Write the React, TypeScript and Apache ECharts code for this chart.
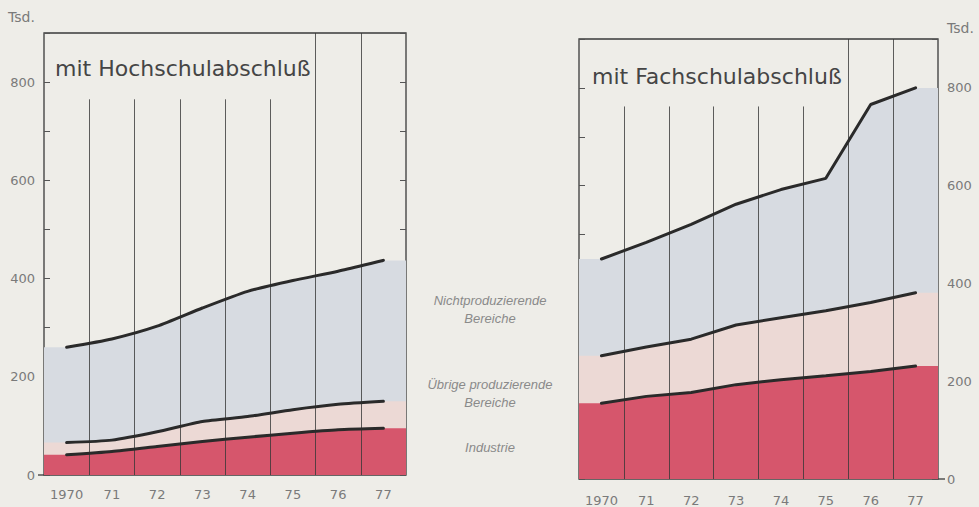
import React, { useEffect, useRef } from "react";
import * as echarts from "echarts";

// ---- data (Tsd.) ----
const years = ["1970", "71", "72", "73", "74", "75", "76", "77"];
// mit Hochschulabschluß
const hochIndustrie = [41, 48, 58, 68, 77, 85, 92, 95];
const hochUebrige = [25, 23, 30, 41, 42, 48, 52, 55];
const hochNicht = [194, 206, 215, 231, 255, 263, 271, 287];
// mit Fachschulabschluß
const fachIndustrie = [155, 169, 177, 193, 203, 211, 220, 231];
const fachUebrige = [97, 101, 109, 122, 127, 133, 141, 150];
const fachNicht = [198, 214, 235, 247, 262, 271, 405, 419];

const yMax = 900;
const yInterval = 100;
const yLabelStep = 200;

const legendNicht = ["Nichtproduzierende", "Bereiche"];
const legendUebrige = ["Übrige produzierende", "Bereiche"];
const legendIndustrie = ["Industrie"];

// ---- style ----
const BG = "#eeede8";
const RED = "#d6566c";
const PINK = "#ecd9d5";
const GREY = "#d7dbe1";
const LINE = "#2a2a2a";
const VLINE = "rgba(55,55,55,0.8)";
const TXT = "#7a7a7a";
const FONT = "'DejaVu Sans', 'Liberation Sans', sans-serif";

function cumulate(...arrs: number[][]): number[][] {
  const out: number[][] = [];
  let acc = arrs[0].map(() => 0);
  for (const a of arrs) {
    acc = acc.map((v, i) => v + a[i]);
    out.push(acc.slice());
  }
  return out;
}
const pts = (vals: number[]) => vals.map((v, i) => [i + 0.5, v]);
const areaPts = (vals: number[]) => [[0, vals[0]], ...pts(vals), [vals.length, vals[vals.length - 1]]];

function panelSeries(
  ind: number[],
  ueb: number[],
  nicht: number[],
  xIdx: number,
  yIdx: number,
  smooth: number,
  boxBottom: number
) {
  const [c1, c2, c3] = cumulate(ind, ueb, nicht);
  const area = (vals: number[], color: string, z: number) => ({
    type: "line",
    xAxisIndex: xIdx,
    yAxisIndex: yIdx,
    data: areaPts(vals),
    smooth,
    showSymbol: false,
    symbol: "none",
    lineStyle: { width: 0 },
    areaStyle: { color, opacity: 1 },
    z,
    silent: true,
  });
  const line = (vals: number[]) => ({
    type: "line",
    xAxisIndex: xIdx,
    yAxisIndex: yIdx,
    data: pts(vals),
    smooth,
    showSymbol: false,
    symbol: "none",
    lineStyle: { width: 3, color: LINE, cap: "round" },
    z: 10,
    silent: true,
  });
  const boundaries = years.slice(1).map((_, i) => {
    const x = i + 1;
    const top = x <= 5 ? boxBottom : yMax;
    return [{ coord: [x, 0] }, { coord: [x, top] }];
  });
  return [
    area(c3, GREY, 1),
    area(c2, PINK, 2),
    area(c1, RED, 3),
    {
      type: "line",
      xAxisIndex: xIdx,
      yAxisIndex: yIdx,
      data: [],
      z: 6,
      silent: true,
      markLine: {
        silent: true,
        symbol: "none",
        label: { show: false },
        lineStyle: { color: VLINE, width: 1, type: "solid" },
        data: boundaries,
        animation: false,
      },
    },
    line(c1),
    line(c2),
    line(c3),
  ];
}

export default function App() {
  const ref = useRef<HTMLDivElement>(null);
  useEffect(() => {
    document.body.style.margin = "0";
    document.body.style.background = BG;
    const chart = echarts.init(ref.current!, undefined, { renderer: "svg" });

    const valueX = (grid: number) => ({
      type: "value",
      gridIndex: grid,
      position: "top",
      min: 0,
      max: years.length,
      show: false,
    });
    const catX = (grid: number, margin: number) => ({
      type: "category",
      gridIndex: grid,
      position: "bottom",
      data: years,
      boundaryGap: true,
      axisLine: { show: false },
      axisTick: { show: false },
      splitLine: { show: false },
      axisLabel: { color: TXT, fontSize: 13, fontFamily: FONT, margin },
    });
    const yAx = (grid: number, position: string, labels: boolean, margin: number) => ({
      type: "value",
      gridIndex: grid,
      position,
      min: 0,
      max: yMax,
      interval: yInterval,
      axisLine: { show: false },
      splitLine: { show: false },
      axisTick: { show: true, inside: true, length: 6, lineStyle: { color: "#555", width: 1 } },
      axisLabel: {
        show: labels,
        color: TXT,
        fontSize: 13,
        fontFamily: FONT,
        margin,
        formatter: (v: number) => (v % yLabelStep === 0 ? String(v) : ""),
      },
    });

    const legendText = (lines: string[], y: number) =>
      lines.map((t, i) => ({
        type: "text",
        x: 490,
        y: y + i * 18,
        style: {
          text: t,
          fill: "#8a8a8a",
          font: `italic 13px 'Liberation Sans', Arial, sans-serif`,
          textAlign: "center",
          textVerticalAlign: "middle",
        },
      }));

    chart.setOption({
      animation: false,
      backgroundColor: BG,
      grid: [
        { left: 44, top: 33, width: 362, height: 442, show: true, borderColor: "#3a3a3a", borderWidth: 1.3, backgroundColor: "transparent" },
        { left: 579, top: 39, width: 359, height: 440, show: true, borderColor: "#3a3a3a", borderWidth: 1.3, backgroundColor: "transparent" },
      ],
      xAxis: [valueX(0), catX(0, 13), valueX(1), catX(1, 15)],
      yAxis: [
        yAx(0, "left", true, 9),
        yAx(0, "right", false, 8),
        yAx(1, "left", false, 8),
        yAx(1, "right", true, 9),
      ],
      series: [
        ...panelSeries(hochIndustrie, hochUebrige, hochNicht, 0, 0, 0.2, 765),
        ...panelSeries(fachIndustrie, fachUebrige, fachNicht, 2, 3, 0, 762),
      ],
      graphic: [
        {
          type: "text",
          x: 55,
          y: 68,
          style: { text: "mit Hochschulabschluß", fill: "#454545", font: `22px ${FONT}`, textVerticalAlign: "middle" },
        },
        {
          type: "text",
          x: 592,
          y: 76,
          style: { text: "mit Fachschulabschluß", fill: "#454545", font: `22px ${FONT}`, textVerticalAlign: "middle" },
        },
        {
          type: "text",
          x: 8,
          y: 17,
          style: { text: "Tsd.", fill: TXT, font: `14px ${FONT}`, textVerticalAlign: "middle" },
        },
        {
          type: "text",
          x: 947,
          y: 28,
          style: { text: "Tsd.", fill: TXT, font: `14px ${FONT}`, textVerticalAlign: "middle" },
        },
        { type: "line", shape: { x1: 38, y1: 475, x2: 44, y2: 475 }, style: { stroke: "#3a3a3a", lineWidth: 1.3 } },
        { type: "line", shape: { x1: 938, y1: 479, x2: 945, y2: 479 }, style: { stroke: "#3a3a3a", lineWidth: 1.3 } },
        ...legendText(legendNicht, 300),
        ...legendText(legendUebrige, 384),
        ...legendText(legendIndustrie, 447),
      ],
    });
    return () => chart.dispose();
  }, []);
  return (
    <div
      ref={ref}
      style={{ position: "fixed", left: 0, top: 0, width: 979, height: 507, background: BG }}
    />
  );
}
